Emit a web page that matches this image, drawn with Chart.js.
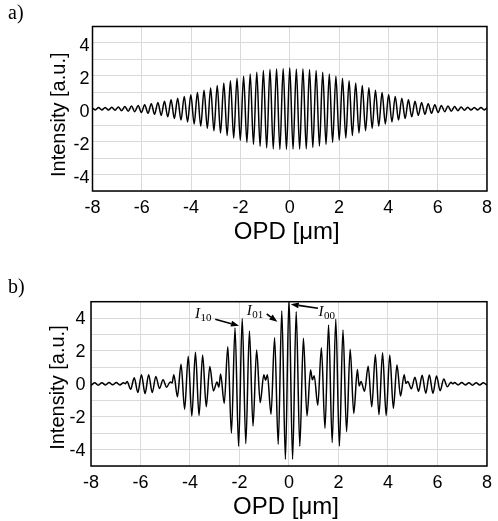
<!DOCTYPE html>
<html><head><meta charset="utf-8">
<script src="https://cdn.jsdelivr.net/npm/chart.js@4.4.0/dist/chart.umd.min.js"></script>
<style>
html,body{margin:0;padding:0;background:#fff;}
#wrap{position:relative;width:498px;height:521px;overflow:hidden;}
canvas{position:absolute;left:0;}
</style></head><body>
<div id="wrap">
<canvas id="ca" width="498" height="260" style="top:0"></canvas>
<canvas id="cb" width="498" height="251" style="top:270px"></canvas>
</div>
<script>
// ---- Panel a) : OPD positions of fringe extrema and intensity values ----
const opdA = [-8.022,-7.888,-7.755,-7.621,-7.487,-7.354,-7.220,-7.086,-6.952,-6.819,-6.685,-6.551,-6.418,-6.284,-6.150,-6.017,-5.883,-5.749,-5.615,-5.482,-5.348,-5.214,-5.081,-4.947,-4.813,-4.680,-4.546,-4.412,-4.278,-4.145,-4.011,-3.877,-3.744,-3.610,-3.476,-3.343,-3.209,-3.075,-2.941,-2.808,-2.674,-2.540,-2.407,-2.273,-2.139,-2.006,-1.872,-1.738,-1.604,-1.471,-1.337,-1.203,-1.070,-0.936,-0.802,-0.669,-0.535,-0.401,-0.267,-0.134,0,0.134,0.267,0.401,0.535,0.669,0.802,0.936,1.070,1.203,1.337,1.471,1.604,1.738,1.872,2.006,2.139,2.273,2.407,2.540,2.674,2.808,2.941,3.075,3.209,3.343,3.476,3.610,3.744,3.877,4.011,4.145,4.278,4.412,4.546,4.680,4.813,4.947,5.081,5.214,5.348,5.482,5.615,5.749,5.883,6.017,6.150,6.284,6.418,6.551,6.685,6.819,6.952,7.086,7.220,7.354,7.487,7.621,7.755,7.888,8.022];
const intensityA = [0.07,-0.07,0.07,-0.08,0.08,-0.08,0.09,-0.09,0.10,-0.12,0.13,-0.15,0.16,-0.18,0.20,-0.23,0.25,-0.28,0.31,-0.34,
0.38,-0.41,0.45,-0.49,0.54,-0.59,0.64,-0.69,0.74,-0.80,0.85,-0.92,0.99,-1.05,1.12,-1.19,1.26,-1.34,1.41,-1.48,
1.56,-1.63,1.70,-1.78,1.85,-1.93,1.98,-2.05,2.11,-2.17,2.22,-2.28,2.32,-2.38,2.40,-2.44,2.43,-2.47,2.44,-2.46,
2.50,
-2.45,2.42,-2.46,2.43,-2.44,2.38,-2.36,2.32,-2.27,2.22,-2.17,2.11,-2.05,1.98,-1.91,1.85,-1.78,1.70,-1.63,1.56,
-1.48,1.41,-1.34,1.27,-1.19,1.12,-1.05,0.99,-0.92,0.86,-0.80,0.74,-0.69,0.64,-0.59,0.54,-0.49,0.45,-0.41,0.38,
-0.34,0.31,-0.28,0.25,-0.23,0.20,-0.18,0.16,-0.15,0.13,-0.12,0.10,-0.09,0.09,-0.08,0.08,-0.08,0.07,-0.07,0.07];

// ---- Panel b) ----
const opdB = [-8.142,-7.997,-7.852,-7.706,-7.561,-7.415,-7.270,-7.125,-6.979,-6.834,-6.689,-6.615,-6.543,-6.398,-6.252,-6.107,-5.961,-5.816,-5.671,-5.525,-5.380,-5.234,-5.089,-4.944,-4.798,-4.725,-4.653,-4.507,-4.362,-4.217,-4.071,-3.926,-3.780,-3.635,-3.490,-3.344,-3.199,-3.053,-2.908,-2.835,-2.763,-2.617,-2.472,-2.326,-2.181,-2.036,-1.890,-1.745,-1.599,-1.454,-1.309,-1.163,-1.018,-0.945,-0.872,-0.727,-0.582,-0.436,-0.291,-0.145,
0,
0.145,0.291,0.436,0.582,0.727,0.872,0.945,1.018,1.163,1.309,1.454,1.599,1.745,1.890,2.036,2.181,2.326,2.472,2.617,2.763,2.835,2.908,3.053,3.199,3.344,3.490,3.635,3.780,3.926,4.071,4.217,4.362,4.507,4.653,4.725,4.798,4.944,5.089,5.234,5.380,5.525,5.671,5.816,5.961,6.107,6.252,6.398,6.543,6.615,6.689,6.834,6.979,7.125,7.270,7.415,7.561,7.706,7.852,7.997,8.142];
const intensityB = [0.07,-0.07,0.07,-0.08,0.07,-0.07,0.08,-0.06,0.08,-0.07,0.07,0.00,0.15,-0.33,0.37,-0.53,0.56,-0.60,0.56,-0.53,0.45,-0.28,0.25,-0.20,0.12,0.05,0.56,-0.78,1.20,-1.55,1.68,-1.96,1.92,-1.93,1.76,-1.39,1.05,-0.43,0.12,-0.20,0.60,-1.19,2.26,-3.00,3.40,-3.80,3.97,-3.64,3.22,-2.57,2.06,-1.15,0.55,0.22,0.55,-1.85,2.81,-3.68,4.43,-4.59,
5.2,
-4.59,4.39,-3.80,2.77,-1.95,0.84,0.25,0.50,-1.30,2.20,-2.71,3.58,-3.58,3.93,-3.78,3.28,-2.91,2.10,-1.80,0.88,-0.13,0.15,-0.45,1.07,-1.40,1.78,-1.88,1.90,-1.93,1.76,-1.49,1.15,-0.74,0.56,0.02,0.15,-0.30,0.40,-0.45,0.52,-0.57,0.54,-0.57,0.48,-0.42,0.30,-0.18,0.10,0.00,0.08,-0.07,0.08,-0.07,0.07,-0.08,0.07,-0.07,0.07,-0.06,0.06];

// ---- Axes ----
const xTickValues = [-8,-6,-4,-2,0,2,4,6,8];
const yGridValues = [-5,-4,-3,-2,-1,0,1,2,3,4,5];
const yTickLabels = [-4,-2,0,2,4];
const xTitle = 'OPD [μm]';
const yTitle = 'Intensity [a.u.]';

// ---- Annotations of panel b (text + arrow, in data units) ----
const annB = [
  {sub:'10', text:[-3.80, 4.02], tail:[-2.98, 3.93], tip:[-2.02, 3.53]},
  {sub:'01', text:[-1.71, 4.20], tail:[-0.90, 4.25], tip:[-0.47, 3.78]},
  {sub:'00', text:[1.19, 4.13],  tail:[1.17, 4.60],  tip:[0.07, 4.85]}
];

const SANS = '"Liberation Sans", Arial, sans-serif';
const SERIF = '"Liberation Serif", "Times New Roman", serif';

const decor = {
  id: 'decor',
  afterDraw(chart, args, o) {
    const {ctx, chartArea: a, scales} = chart;
    ctx.save();
    ctx.strokeStyle = '#000'; ctx.lineWidth = 1.5;
    ctx.strokeRect(a.left, a.top, a.right - a.left, a.bottom - a.top);
    ctx.fillStyle = '#000';
    ctx.font = '20px ' + SERIF; ctx.textAlign = 'left'; ctx.textBaseline = 'alphabetic';
    ctx.fillText(o.panel, 8, o.panelY);
    ctx.font = '24px ' + SANS; ctx.textAlign = 'center';
    ctx.fillText(xTitle, (a.left + a.right) / 2 - 3, a.bottom + 48.3);
    ctx.save();
    ctx.translate(a.left - 32.6, (a.top + a.bottom) / 2 + o.yShift);
    ctx.rotate(-Math.PI / 2);
    ctx.font = '20px ' + SANS; ctx.textAlign = 'center'; ctx.textBaseline = 'middle';
    ctx.fillText(yTitle, 0, 0);
    ctx.restore();
    (o.ann || []).forEach(an => {
      const px = v => scales.x.getPixelForValue(v), py = v => scales.y.getPixelForValue(v);
      const tx = px(an.text[0]), ty = py(an.text[1]);
      ctx.font = 'italic 15px ' + SERIF; ctx.textAlign = 'left'; ctx.textBaseline = 'alphabetic';
      ctx.fillText('I', tx, ty);
      const w = ctx.measureText('I').width;
      ctx.font = '11px ' + SERIF;
      ctx.fillText(an.sub, tx + w + 0.5, ty + 3);
      const x0 = px(an.tail[0]), y0 = py(an.tail[1]), x1 = px(an.tip[0]), y1 = py(an.tip[1]);
      const ang = Math.atan2(y1 - y0, x1 - x0), L = 8, H = 3;
      const bx = x1 - L * Math.cos(ang), by = y1 - L * Math.sin(ang);
      ctx.strokeStyle = '#000'; ctx.lineWidth = 1.6;
      ctx.beginPath(); ctx.moveTo(x0, y0); ctx.lineTo(bx, by); ctx.stroke();
      ctx.beginPath();
      ctx.moveTo(x1, y1);
      ctx.lineTo(bx + H * Math.sin(ang), by - H * Math.cos(ang));
      ctx.lineTo(bx - H * Math.sin(ang), by + H * Math.cos(ang));
      ctx.closePath(); ctx.fill();
    });
    ctx.restore();
  }
};

function makeChart(id, xs, ys, cfg) {
  return new Chart(document.getElementById(id), {
    type: 'line',
    data: {datasets: [{
      data: xs.map((x, i) => ({x: x, y: ys[i]})),
      borderColor: '#000', borderWidth: 1.5, pointRadius: 0,
      cubicInterpolationMode: 'monotone', fill: false
    }]},
    options: {
      responsive: false, animation: false, devicePixelRatio: 1,
      layout: {padding: {left: 0, right: cfg.padR, top: cfg.padT, bottom: 0}},
      plugins: {legend: {display: false}, tooltip: {enabled: false}, decor: cfg.decor},
      scales: {
        x: {
          type: 'linear', min: -8, max: 8,
          afterBuildTicks: s => { s.ticks = xTickValues.map(v => ({value: v})); },
          afterFit: s => { s.height = cfg.xH; },
          grid: {color: '#dadada', lineWidth: 1, drawTicks: false},
          border: {display: false},
          ticks: {autoSkip: false, maxRotation: 0, color: '#000', padding: cfg.xPad,
                  font: {family: SANS, size: 18}, callback: v => String(v)}
        },
        y: {
          type: 'linear', min: -5, max: 5,
          afterBuildTicks: s => { s.ticks = yGridValues.map(v => ({value: v})); },
          afterFit: s => { s.width = cfg.yW; },
          grid: {color: '#dadada', lineWidth: 1, drawTicks: false},
          border: {display: false},
          ticks: {autoSkip: false, color: '#000', padding: cfg.yPad, labelOffset: cfg.yOff,
                  font: {family: SANS, size: 18},
                  callback: v => yTickLabels.includes(v) ? String(v) : ''}
        }
      }
    },
    plugins: [decor]
  });
}

makeChart('ca', opdA, intensityA, {padR: 6.5, padT: 26.5, xH: 69, yW: 92.5, xPad: 6, yPad: 3, yOff: 3.5,
  decor: {panel: 'a)', panelY: 19, yShift: 6}});
makeChart('cb', opdB, intensityB, {padR: 4.5, padT: 31.7, xH: 55, yW: 91, xPad: 6, yPad: 5.5, yOff: 1,
  decor: {panel: 'b)', panelY: 23, yShift: 3.7, ann: annB}});
</script>
</body></html>
